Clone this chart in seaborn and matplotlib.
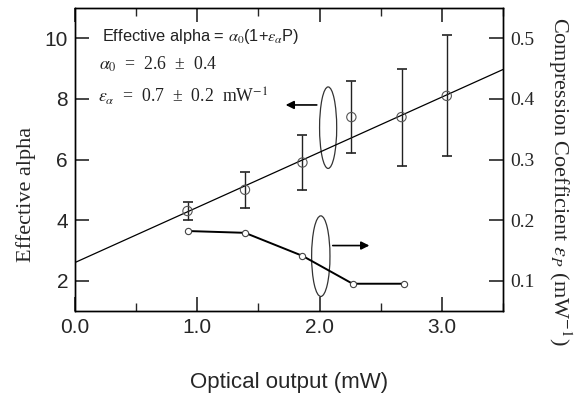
import numpy as np
import matplotlib
matplotlib.use("Agg")
import matplotlib.pyplot as plt
from matplotlib.patches import Ellipse
from matplotlib.ticker import MultipleLocator
import seaborn as sns

# ---- data ----
power = [0.92, 1.39, 1.86, 2.26, 2.67, 3.04]          # optical output (mW)
alpha_eff = [4.3, 5.0, 5.9, 7.4, 7.4, 8.1]             # effective alpha
alpha_err = [0.3, 0.6, 0.9, 1.2, 1.6, 2.0]

comp_power = [0.92, 1.39, 1.86, 2.27, 2.69]
comp_coef = [0.182, 0.179, 0.141, 0.095, 0.095]        # compression coefficient (mW^-1)

alpha0 = 2.6
eps_alpha = 0.7
fit_x = [0.0, 3.5]

# ---- style ----
sns.set_style("ticks")
plt.rcParams['font.family'] = ['Liberation Sans', 'DejaVu Sans']
plt.rcParams['mathtext.fontset'] = 'stix'
plt.rcParams['axes.edgecolor'] = 'black'
plt.rcParams['axes.linewidth'] = 1.0

fig = plt.figure(figsize=(5.74, 4.01), dpi=100)
ax = fig.add_axes([75/574, 1 - 311/401, (503 - 75)/574, (311 - 8)/401])
ax2 = ax.twinx()

# fitted line: alpha = alpha0 * (1 + eps_alpha * P)
fit_y = [alpha0 * (1 + eps_alpha * p) for p in fit_x]
sns.lineplot(x=fit_x, y=fit_y, ax=ax, color='black', lw=0.9)

# effective alpha with error bars
ax.errorbar(power, alpha_eff, yerr=alpha_err, fmt='none', ecolor='#222222',
            elinewidth=1.0, capsize=3.5, capthick=1.2)
sns.scatterplot(x=power, y=alpha_eff, ax=ax, marker='o', s=45,
                facecolor='none', edgecolor='#555555', linewidth=0.8, zorder=5)

# compression coefficient on the right axis
sns.lineplot(x=comp_power, y=comp_coef, ax=ax2, color='black', lw=1.4,
             marker='o', markersize=4.5, markerfacecolor='white',
             markeredgecolor='#444444', markeredgewidth=0.8)

# ellipses + arrows marking which axis each curve belongs to
ax.add_patch(Ellipse((2.07, 7.05), 0.14, 2.69, fill=False, color='#333333', lw=0.9))
ax.annotate('', xy=(1.70, 7.8), xytext=(2.0, 7.8),
            arrowprops=dict(arrowstyle='-|>', color='black', lw=1.2, mutation_scale=12))
ax.add_patch(Ellipse((2.01, 2.81), 0.15, 2.66, fill=False, color='#333333', lw=0.9))
ax.annotate('', xy=(2.43, 3.16), xytext=(2.085, 3.16),
            arrowprops=dict(arrowstyle='-|>', color='black', lw=1.2, mutation_scale=12))

# text
ax.text(0.22, 10.07, r'Effective alpha = $\alpha_0$(1+$\varepsilon_\alpha$P)',
        fontsize=11.8, va='center', ha='left', color='#222222')
ax.text(0.20, 9.15, r'$\alpha_0$  =  2.6  ±  0.4', fontsize=12.8,
        family='Liberation Serif', va='center', ha='left', color='#222222')
ax.text(0.19, 8.1, r'$\varepsilon_\alpha$  =  0.7  ±  0.2  mW$^{-1}$', fontsize=12.8,
        family='Liberation Serif', va='center', ha='left', color='#222222')

# axes limits and ticks
ax.set_xlim(0, 3.5)
ax.set_ylim(1, 11)
ax2.set_ylim(0.05, 0.55)
ax.xaxis.set_minor_locator(MultipleLocator(0.5))
ax.set_xticks([0, 1, 2, 3])
ax.set_xticklabels(['0.0', '1.0', '2.0', '3.0'])
ax.set_yticks([2, 4, 6, 8, 10])
ax2.set_yticks([0.1, 0.2, 0.3, 0.4, 0.5])
ax2.set_yticklabels(['0.1', '0.2', '0.3', '0.4', '0.5'], family='Liberation Serif')

ax.tick_params(axis='x', which='major', direction='in', length=10, width=1.2,
               top=True, labelsize=15, pad=5)
ax.tick_params(axis='x', which='minor', direction='in', length=6, width=1.0, top=True)
ax.tick_params(axis='y', which='major', direction='in', length=10, width=1.2,
               right=False, labelsize=15, pad=5)
ax2.tick_params(axis='y', direction='in', length=10, width=1.2, left=False,
                labelsize=14, pad=5)

ax.set_xlabel('Optical output (mW)', fontsize=16, labelpad=25)
ax.set_ylabel('Effective alpha', fontsize=16, family='Liberation Serif')
ax.yaxis.set_label_coords(-0.09, 0.386)
fig.text(560/574, 1 - 181/401,
         r'Compression Coefficient $\varepsilon_P$ (mW$^{-1}$)', fontsize=16,
         family='Liberation Serif', rotation=270, ha='center', va='center')

for a in (ax, ax2):
    for s in a.spines.values():
        s.set_linewidth(1.0)

fig.savefig('out.png', dpi=100)
